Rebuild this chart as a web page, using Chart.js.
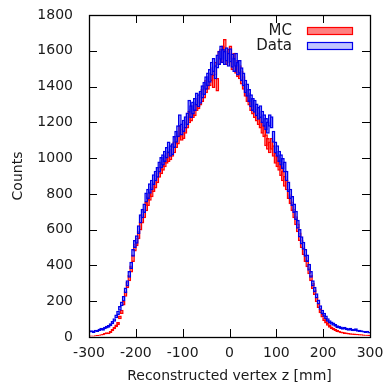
<!DOCTYPE html>
<html>
<head>
<meta charset="utf-8">
<script src="https://cdn.jsdelivr.net/npm/chart.js@4/dist/chart.umd.min.js"></script>
<style>
html,body{margin:0;padding:0;background:#fff;}
#wrap{width:384px;height:385px;}
</style>
</head>
<body>
<div id="wrap"><canvas id="c" width="384" height="385"></canvas></div>
<script>
// Bin centres in mm (4 mm bins from -300 to 300)
const binCenters = [];
for (let i = 0; i < 150; i++) binCenters.push(-298 + 4 * i);

// Counts
const dataCounts = [
  30,32,28,35,33,40,45,42,50,55,
  60,68,80,95,115,135,160,185,215,260,
  300,350,400,470,520,545,600,660,690,720,
  780,800,830,850,880,900,920,950,975,990,
  1010,1030,1060,1040,1050,1090,1120,1150,1210,1160,
  1180,1200,1220,1290,1260,1280,1300,1330,1320,1340,
  1370,1390,1420,1440,1460,1500,1520,1480,1540,1560,
  1590,1570,1560,1580,1550,1575,1545,1520,1550,1500,
  1510,1470,1440,1400,1380,1350,1320,1300,1290,1270,
  1250,1260,1230,1210,1190,1170,1210,1200,1120,1060,
  1040,1010,990,970,950,900,840,800,760,720,
  680,630,580,540,510,470,440,390,350,300,
  265,230,195,165,140,125,110,95,85,78,
  72,65,58,55,52,48,50,45,42,45,
  40,38,42,35,34,32,30,28,30,25
];
const mcCounts = [
  5,6,5,7,8,10,12,14,18,22,
  20,28,38,50,62,75,110,140,190,240,
  290,330,380,440,500,530,570,620,660,690,
  730,760,790,810,840,860,890,920,940,960,
  980,1000,1010,1020,1040,1060,1090,1110,1150,1130,
  1140,1170,1200,1230,1240,1260,1270,1300,1310,1330,
  1350,1370,1400,1420,1440,1470,1430,1500,1410,1560,
  1570,1590,1625,1560,1570,1590,1530,1550,1510,1490,
  1480,1450,1420,1380,1350,1330,1300,1280,1260,1240,
  1220,1200,1170,1150,1100,1080,1060,1080,1040,1000,
  980,960,930,900,870,850,800,770,730,690,
  650,610,560,520,480,440,410,370,330,285,
  250,210,175,145,120,100,85,72,60,52,
  45,40,34,30,26,24,22,20,18,17,
  16,15,14,13,12,12,11,10,10,9
];
const xTickMin = -300, xTickMax = 300, xTickStep = 100;
const yTickMin = 0, yTickMax = 1800, yTickStep = 200;
const seriesNames = ['MC', 'Data'];

function band(counts) {
  return counts.map((v, i) => {
    const e = Math.sqrt(v);
    return {x: binCenters[i], y: [Math.max(0, v - e), v + e]};
  });
}

const FONT = 'DejaVu Sans';
const TXT = '#1a1a1a';

const framePlugin = {
  id: 'frame',
  afterDatasetsDraw(chart) {
    const {ctx, chartArea: a, scales: {x, y}} = chart;
    ctx.save();
    ctx.strokeStyle = '#000';
    ctx.lineWidth = 1;
    const tl = 8;
    ctx.beginPath();
    x.ticks.forEach(t => {
      const px = Math.round(x.getPixelForValue(t.value)) + 0.5;
      ctx.moveTo(px, a.bottom); ctx.lineTo(px, a.bottom - tl);
      ctx.moveTo(px, a.top); ctx.lineTo(px, a.top + tl);
    });
    y.ticks.forEach(t => {
      const py = Math.round(y.getPixelForValue(t.value)) + 0.5;
      ctx.moveTo(a.left, py); ctx.lineTo(a.left + tl, py);
      ctx.moveTo(a.right, py); ctx.lineTo(a.right - tl, py);
    });
    ctx.stroke();
    ctx.lineWidth = 1.3;
    ctx.strokeRect(Math.round(a.left) + 0.5, Math.round(a.top) + 0.5,
                   Math.round(a.right - a.left), Math.round(a.bottom - a.top));
    // legend (gnuplot style: text then sample box)
    ctx.font = '15px "' + FONT + '"';
    ctx.textAlign = 'right';
    ctx.textBaseline = 'middle';
    const ds = chart.data.datasets;
    const rows = [{ds: ds[1], y: 31}, {ds: ds[0], y: 46}];
    rows.forEach(r => {
      ctx.fillStyle = TXT;
      ctx.fillText(r.ds.label, 292, r.y);
      ctx.fillStyle = r.ds.legendFill;
      ctx.fillRect(307, r.y - 4, 45, 8);
      ctx.strokeStyle = r.ds.borderColor;
      ctx.lineWidth = 1.2;
      ctx.strokeRect(307.5, r.y - 4 + 0.5, 45, 7);
    });
    ctx.restore();
  }
};

new Chart(document.getElementById('c'), {
  type: 'bar',
  data: {
    datasets: [
      {
        label: seriesNames[1],
        data: band(dataCounts),
        backgroundColor: 'rgba(100,100,255,0.9)',
        legendFill: 'rgb(192,196,255)',
        borderColor: 'rgb(0,0,235)',
        borderWidth: 1.5,
        borderSkipped: false,
        order: 1
      },
      {
        label: seriesNames[0],
        data: band(mcCounts),
        backgroundColor: 'rgba(255,80,80,0.95)',
        legendFill: 'rgb(255,128,128)',
        borderColor: 'rgb(255,0,0)',
        borderWidth: 1.5,
        borderSkipped: false,
        order: 2
      }
    ]
  },
  options: {
    responsive: false,
    animation: false,
    devicePixelRatio: 1,
    grouped: false,
    barPercentage: 2.0,
    categoryPercentage: 1.0,
    layout: {padding: {left: 0, right: 14, top: 15, bottom: 0}},
    plugins: {legend: {display: false}, tooltip: {enabled: false}},
    scales: {
      x: {
        type: 'linear',
        offset: false,
        min: xTickMin, max: xTickMax,
        grid: {display: false, drawTicks: false},
        border: {display: false},
        ticks: {stepSize: xTickStep, padding: 8, color: TXT, font: {family: FONT, size: 14}, maxRotation: 0,
                callback: v => String(v)},
        title: {display: true, text: 'Reconstructed vertex z [mm]', color: TXT,
                font: {family: FONT, size: 14}, padding: {top: 0, bottom: 0}},
        afterFit(s) { s.height = 48; s.paddingLeft = 0; s.paddingRight = 0; }
      },
      y: {
        min: yTickMin, max: yTickMax,
        grid: {display: false, drawTicks: false},
        border: {display: false},
        ticks: {stepSize: yTickStep, padding: 16, color: TXT, font: {family: FONT, size: 14},
                callback: v => String(v)},
        title: {display: true, text: 'Counts', color: TXT,
                font: {family: FONT, size: 14}, padding: {top: 10, bottom: 0}},
        afterFit(s) { s.width = 89; s.paddingTop = 0; s.paddingBottom = 0; }
      }
    }
  },
  plugins: [framePlugin]
});
</script>
</body>
</html>
